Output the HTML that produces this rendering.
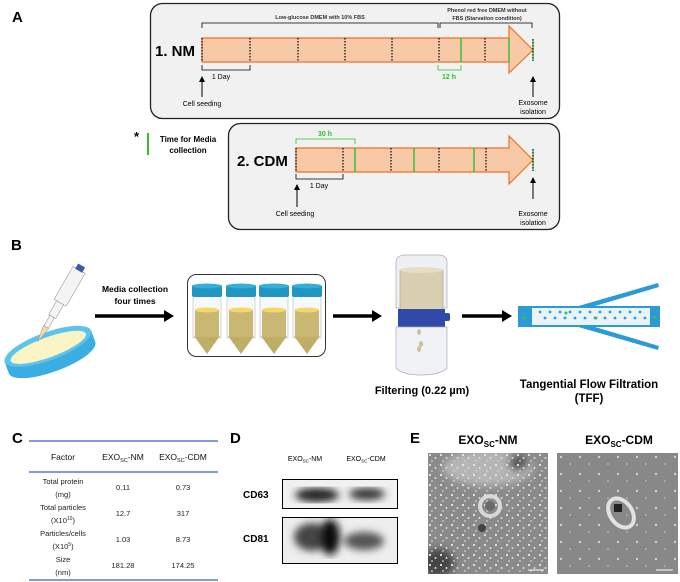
<!DOCTYPE html>
<html><head><meta charset="utf-8"><style>
html,body{margin:0;padding:0;background:#fff;}
svg{display:block;font-family:"Liberation Sans",Arial,sans-serif;}
</style></head><body>
<svg width="680" height="582" viewBox="0 0 680 582" xmlns="http://www.w3.org/2000/svg">
<defs>
<marker id="ah" markerWidth="6" markerHeight="6" refX="5" refY="3" orient="auto"><path d="M0,0 L6,3 L0,6 z" fill="#000"/></marker>
<filter id="bl"><feGaussianBlur stdDeviation="4"/></filter>
<pattern id="dots1" width="11" height="10" patternUnits="userSpaceOnUse"><circle cx="2" cy="2" r="1.1" fill="#e6e6e6"/><circle cx="7.5" cy="5" r="1" fill="#dcdcdc"/><circle cx="4" cy="8" r="0.9" fill="#d0d0d0"/></pattern>
<pattern id="dots2" width="19" height="17" patternUnits="userSpaceOnUse"><circle cx="4" cy="4" r="1.2" fill="#cfcfcf"/><circle cx="13" cy="11" r="0.9" fill="#bdbdbd"/></pattern>
</defs>

<!-- Panel A -->
<text x="12" y="22" font-size="15" font-weight="bold">A</text>
<rect x="150.5" y="3.5" width="409" height="115" rx="12" fill="#f1f1f1" stroke="#222" stroke-width="1.3"/>
<rect x="228.5" y="123.5" width="331" height="106" rx="12" fill="#f1f1f1" stroke="#222" stroke-width="1.3"/>

<path d="M202,38 H509 V26 L533,50 L509,73 V62 H202 Z" fill="#f8c9a6" stroke="#ec7326" stroke-width="1.2"/>
<g stroke="#000" stroke-width="1.2" stroke-dasharray="1.5,1.5">
<line x1="202" y1="38" x2="202" y2="62"/><line x1="250" y1="38" x2="250" y2="62"/><line x1="298" y1="38" x2="298" y2="62"/>
<line x1="345" y1="38" x2="345" y2="62"/><line x1="392" y1="38" x2="392" y2="62"/><line x1="439" y1="38" x2="439" y2="62"/>
<line x1="485" y1="38" x2="485" y2="62"/><line x1="533" y1="39" x2="533" y2="61"/>
</g>
<g stroke="#2ec02e" stroke-width="1.4"><line x1="461" y1="38" x2="461" y2="62"/><line x1="509" y1="38" x2="509" y2="62"/></g>
<line x1="533" y1="39" x2="533" y2="61" stroke="#2ec02e" stroke-width="1.2" stroke-dasharray="1.5,1.5" stroke-dashoffset="1.5"/>
<text x="155" y="56" font-size="15" font-weight="bold">1. NM</text>
<path d="M202,28 V23 H438 V28 M440,28 V23 H532 V28" fill="none" stroke="#000" stroke-width="0.8"/>
<text x="320" y="19" font-size="5.5" font-weight="bold" text-anchor="middle" fill="#333">Low-glucose DMEM with 10% FBS</text>
<text x="487" y="12" font-size="5.5" font-weight="bold" text-anchor="middle" fill="#333">Phenol red free DMEM without</text>
<text x="487" y="20" font-size="5.5" font-weight="bold" text-anchor="middle" fill="#333">FBS (Starvation condition)</text>
<path d="M202,65 V70 H250 V65" fill="none" stroke="#000" stroke-width="0.8"/>
<text x="221" y="79" font-size="7" text-anchor="middle">1 Day</text>
<path d="M438,65 V70 H461 V65" fill="none" stroke="#2ec02e" stroke-width="0.8"/>
<text x="449" y="79" font-size="7" font-weight="bold" text-anchor="middle" fill="#2ec02e">12 h</text>
<line x1="202" y1="97" x2="202" y2="77" stroke="#000" stroke-width="1" marker-end="url(#ah)"/>
<text x="202" y="106" font-size="7" text-anchor="middle">Cell seeding</text>
<line x1="533" y1="97" x2="533" y2="77" stroke="#000" stroke-width="1" marker-end="url(#ah)"/>
<text x="533" y="105" font-size="7" text-anchor="middle">Exosome</text>
<text x="533" y="114" font-size="7" text-anchor="middle">isolation</text>

<text x="134" y="141" font-size="13" font-weight="bold">*</text>
<line x1="148" y1="133" x2="148" y2="155" stroke="#2ec02e" stroke-width="2"/>
<text x="188" y="142" font-size="8" font-weight="bold" text-anchor="middle">Time for Media</text>
<text x="188" y="153" font-size="8" font-weight="bold" text-anchor="middle">collection</text>

<path d="M296,148 H509 V136 L533,160 L509,184 V172 H296 Z" fill="#f8c9a6" stroke="#ec7326" stroke-width="1.2"/>
<g stroke="#000" stroke-width="1.2" stroke-dasharray="1.5,1.5">
<line x1="296" y1="148" x2="296" y2="172"/><line x1="343" y1="148" x2="343" y2="172"/><line x1="391" y1="148" x2="391" y2="172"/>
<line x1="439" y1="148" x2="439" y2="172"/><line x1="486" y1="148" x2="486" y2="172"/><line x1="533" y1="149" x2="533" y2="171"/>
</g>
<g stroke="#2ec02e" stroke-width="1.4"><line x1="355" y1="148" x2="355" y2="172"/><line x1="414" y1="148" x2="414" y2="172"/><line x1="474" y1="148" x2="474" y2="172"/></g>
<line x1="533" y1="149" x2="533" y2="171" stroke="#2ec02e" stroke-width="1.2" stroke-dasharray="1.5,1.5" stroke-dashoffset="1.5"/>
<text x="237" y="166" font-size="15" font-weight="bold">2. CDM</text>
<path d="M296,144 V139 H355 V144" fill="none" stroke="#2ec02e" stroke-width="0.8"/>
<text x="325" y="136" font-size="7" font-weight="bold" text-anchor="middle" fill="#2ec02e">30 h</text>
<path d="M296,174 V179 H343 V174" fill="none" stroke="#000" stroke-width="0.8"/>
<text x="319" y="188" font-size="7" text-anchor="middle">1 Day</text>
<line x1="297" y1="207" x2="297" y2="185" stroke="#000" stroke-width="1" marker-end="url(#ah)"/>
<text x="295" y="216" font-size="7" text-anchor="middle">Cell seeding</text>
<line x1="533" y1="199" x2="533" y2="178" stroke="#000" stroke-width="1" marker-end="url(#ah)"/>
<text x="533" y="216" font-size="7" text-anchor="middle">Exosome</text>
<text x="533" y="225" font-size="7" text-anchor="middle">isolation</text>

<!-- Panel B -->
<text x="11" y="250" font-size="15" font-weight="bold">B</text>
<g transform="rotate(-20 50 352)">
<ellipse cx="50" cy="358" rx="46" ry="14" fill="#3aaee0"/>
<rect x="4" y="346" width="92" height="12" fill="#3aaee0"/>
<ellipse cx="50" cy="346" rx="46" ry="14" fill="#5cc4ec"/>
<ellipse cx="50" cy="347" rx="40" ry="10" fill="#fbf4c4"/>
</g>
<g transform="rotate(30 60 305)">
<rect x="52" y="265" width="14" height="38" fill="#f4f4f4" stroke="#999" stroke-width="0.6"/>
<rect x="55" y="260" width="8" height="6" fill="#3d5aa8"/>
<rect x="55" y="303" width="8" height="16" fill="#f4f4f4" stroke="#999" stroke-width="0.6"/>
<rect x="56.5" y="319" width="5" height="12" fill="#f4f4f4" stroke="#999" stroke-width="0.6"/>
<path d="M56,331 L62,331 L59,348 Z" fill="#f0dca8" stroke="#999" stroke-width="0.5"/>
</g>
<text x="135" y="292" font-size="8.5" font-weight="bold" text-anchor="middle">Media collection</text>
<text x="135" y="304" font-size="8.5" font-weight="bold" text-anchor="middle">four times</text>
<line x1="95" y1="316" x2="166" y2="316" stroke="#000" stroke-width="3.5"/>
<path d="M164,310 L174,316 L164,322 Z" fill="#000"/>
<rect x="187.5" y="274.5" width="138" height="82" rx="9" fill="#fff" stroke="#333" stroke-width="1"/>
<g id="tube">
<rect x="193" y="296" width="28" height="42" fill="#f6f8fa" stroke="#bbb" stroke-width="0.6"/>
<path d="M194,336 H220 L207,354 Z" fill="#bfae66"/>
<rect x="195" y="310" width="24" height="27" fill="#c9b873"/>
<ellipse cx="207" cy="310" rx="12" ry="2.5" fill="#f3d76a"/>
<rect x="192" y="285" width="30" height="12" rx="2" fill="#2196c2"/>
<ellipse cx="207" cy="286" rx="15" ry="2.5" fill="#32b0d8"/>
</g>
<use href="#tube" x="34"/><use href="#tube" x="67"/><use href="#tube" x="100"/>
<line x1="333" y1="316" x2="374" y2="316" stroke="#000" stroke-width="3.5"/>
<path d="M372,310 L382,316 L372,322 Z" fill="#000"/>
<path d="M396,262 Q396,256 404,255 H440 Q447,256 447,262 V308 H396 Z" fill="#eef0f3" stroke="#aab" stroke-width="0.7"/>
<rect x="400" y="270" width="43" height="40" fill="#d8cfb2" stroke="#a9a08a" stroke-width="0.6"/>
<ellipse cx="421.5" cy="270" rx="21.5" ry="3" fill="#e5ddc4"/>
<rect x="398" y="309" width="47" height="18" fill="#2f4aa8"/>
<rect x="443" y="313" width="7" height="8" rx="2" fill="#2f4aa8"/>
<path d="M396,327 H447 V368 Q440,375 421,375 Q402,375 396,368 Z" fill="#f0f2f5" stroke="#aab" stroke-width="0.7"/>
<ellipse cx="419" cy="332" rx="1.8" ry="3" fill="#cbbf98"/>
<ellipse cx="421" cy="344" rx="2" ry="3" fill="#cbbf98"/>
<ellipse cx="419" cy="349" rx="2" ry="3" fill="#cbbf98"/>
<text x="422" y="394" font-size="11" font-weight="bold" text-anchor="middle">Filtering (0.22 µm)</text>
<line x1="462" y1="316" x2="504" y2="316" stroke="#000" stroke-width="3.5"/>
<path d="M502,310 L512,316 L502,322 Z" fill="#000"/>
<path d="M575,307 L658,283 L659,287 L578,311 Z" fill="#2a9bd6"/>
<path d="M575,326 L658,350 L659,346 L578,322 Z" fill="#2a9bd6"/>
<rect x="518" y="306" width="142" height="21" fill="#2a9bd6"/>
<rect x="532" y="308" width="118" height="17" fill="#e9f3f8"/>
<g fill="#2a9bd6">
<circle cx="540" cy="312" r="1.4"/><circle cx="550" cy="312" r="1.4"/><circle cx="560" cy="312" r="1.4"/><circle cx="570" cy="312" r="1.4"/><circle cx="580" cy="312" r="1.4"/><circle cx="590" cy="312" r="1.4"/><circle cx="600" cy="312" r="1.4"/><circle cx="610" cy="312" r="1.4"/><circle cx="620" cy="312" r="1.4"/><circle cx="630" cy="312" r="1.4"/><circle cx="640" cy="312" r="1.4"/>
<circle cx="545" cy="318" r="1.4"/><circle cx="555" cy="318" r="1.4"/><circle cx="565" cy="318" r="1.4"/><circle cx="575" cy="318" r="1.4"/><circle cx="585" cy="318" r="1.4"/><circle cx="595" cy="318" r="1.4"/><circle cx="605" cy="318" r="1.4"/><circle cx="615" cy="318" r="1.4"/><circle cx="625" cy="318" r="1.4"/><circle cx="635" cy="318" r="1.4"/><circle cx="645" cy="318" r="1.4"/>
</g>
<g fill="#3cc43c"><circle cx="524" cy="318" r="1.5"/><circle cx="566" cy="313" r="1.5"/><circle cx="596" cy="318" r="1.5"/><circle cx="655" cy="317" r="1.5"/></g>
<text x="589" y="388" font-size="11.5" font-weight="bold" text-anchor="middle">Tangential Flow Filtration</text>
<text x="589" y="402" font-size="11.5" font-weight="bold" text-anchor="middle">(TFF)</text>

<!-- Panel C -->
<text x="12" y="443" font-size="15" font-weight="bold">C</text>
<g stroke="#3a5fc0" stroke-width="1.3"><line x1="29" y1="441" x2="218" y2="441"/><line x1="29" y1="472" x2="218" y2="472"/><line x1="29" y1="580" x2="218" y2="580"/></g>
<g font-size="8.5" text-anchor="middle" fill="#111">
<text x="63" y="460">Factor</text>
<text x="123" y="460">EXO<tspan font-size="5.5" dy="2">SC</tspan><tspan dy="-2">-NM</tspan></text>
<text x="183" y="460">EXO<tspan font-size="5.5" dy="2">SC</tspan><tspan dy="-2">-CDM</tspan></text>
</g>
<g font-size="7.5" text-anchor="middle" fill="#222">
<text x="63" y="484">Total protein</text><text x="63" y="497">(mg)</text>
<text x="123" y="490">0.11</text><text x="183" y="490">0.73</text>
<text x="63" y="510">Total particles</text><text x="63" y="523">(X10<tspan font-size="5" dy="-3">10</tspan><tspan dy="3">)</tspan></text>
<text x="123" y="516">12.7</text><text x="183" y="516">317</text>
<text x="63" y="536">Particles/cells</text><text x="63" y="549">(X10<tspan font-size="5" dy="-3">5</tspan><tspan dy="3">)</tspan></text>
<text x="123" y="542">1.03</text><text x="183" y="542">8.73</text>
<text x="63" y="562">Size</text><text x="63" y="575">(nm)</text>
<text x="123" y="568">181.28</text><text x="183" y="568">174.25</text>
</g>

<!-- Panel D -->
<text x="230" y="443" font-size="15" font-weight="bold">D</text>
<text x="305" y="461" font-size="7" text-anchor="middle">EXO<tspan font-size="4.5" dy="1.5">SC</tspan><tspan dy="-1.5">-NM</tspan></text>
<text x="366" y="461" font-size="7" text-anchor="middle">EXO<tspan font-size="4.5" dy="1.5">SC</tspan><tspan dy="-1.5">-CDM</tspan></text>
<text x="243" y="498" font-size="10" font-weight="bold">CD63</text>
<text x="243" y="542" font-size="10" font-weight="bold">CD81</text>
<svg x="282" y="479" width="115" height="29"><rect width="115" height="29" fill="#f1f1f1"/>
<g filter="url(#bl)"><ellipse cx="35" cy="16" rx="22" ry="7" fill="#222"/><ellipse cx="85" cy="15" rx="18" ry="6" fill="#333"/></g></svg>
<rect x="282.5" y="479.5" width="115" height="29" fill="none" stroke="#000" stroke-width="1"/>
<svg x="282" y="517" width="115" height="46"><rect width="115" height="46" fill="#eee"/>
<g filter="url(#bl)"><ellipse cx="30" cy="20" rx="18" ry="14" fill="#444"/><ellipse cx="48" cy="20" rx="10" ry="18" fill="#111"/><ellipse cx="82" cy="24" rx="20" ry="9" fill="#555"/></g></svg>
<rect x="282.5" y="517.5" width="115" height="46" fill="none" stroke="#000" stroke-width="1"/>

<!-- Panel E -->
<text x="410" y="443" font-size="15" font-weight="bold">E</text>
<text x="488" y="444" font-size="12" font-weight="bold" text-anchor="middle">EXO<tspan font-size="8" dy="3">SC</tspan><tspan dy="-3">-NM</tspan></text>
<text x="619" y="444" font-size="12" font-weight="bold" text-anchor="middle">EXO<tspan font-size="8" dy="3">SC</tspan><tspan dy="-3">-CDM</tspan></text>
<svg x="428" y="453" width="120" height="121">
<rect width="120" height="121" fill="#8a8a8a"/>
<g filter="url(#bl)"><ellipse cx="60" cy="15" rx="45" ry="18" fill="#b5b5b5"/><ellipse cx="10" cy="110" rx="16" ry="14" fill="#444"/><ellipse cx="90" cy="10" rx="10" ry="8" fill="#555"/></g>
<rect width="120" height="121" fill="url(#dots1)"/>
<circle cx="62" cy="53" r="10" fill="none" stroke="#d8d8d8" stroke-width="4"/>
<circle cx="62" cy="53" r="5" fill="#6a6a6a"/>
<circle cx="54" cy="75" r="4" fill="#444"/>
<line x1="100" y1="117" x2="116" y2="117" stroke="#fff" stroke-width="1"/>
</svg>
<svg x="557" y="453" width="121" height="121">
<rect width="121" height="121" fill="#888"/>
<rect width="121" height="121" fill="url(#dots2)"/>
<g transform="rotate(-35 64 60)"><ellipse cx="64" cy="60" rx="11" ry="16" fill="none" stroke="#e2e2e2" stroke-width="4"/></g>
<rect x="57" y="51" width="8" height="8" fill="#222"/>
<line x1="99" y1="117" x2="116" y2="117" stroke="#fff" stroke-width="1"/>
</svg>
</svg>
</body></html>
